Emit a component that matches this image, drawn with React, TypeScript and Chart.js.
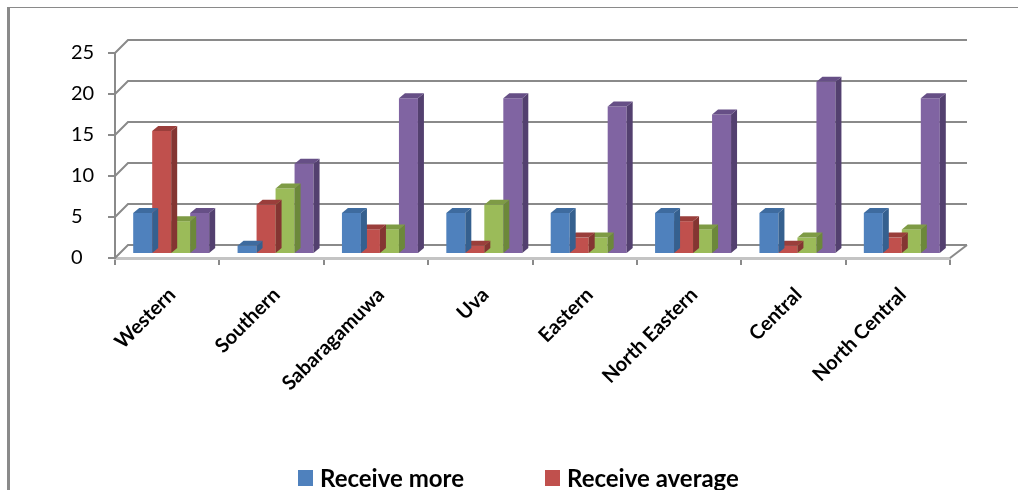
import React, { useEffect, useRef } from 'react';
import { Chart, registerables } from 'chart.js';

Chart.register(...registerables);

const categories = ['Western', 'Southern', 'Sabaragamuwa', 'Uva', 'Eastern', 'North Eastern', 'Central', 'North Central'];
const seriesNames = ['Receive more', 'Receive average', 'Receive less', 'Do not receive'];
const receiveMore = [5, 1, 5, 5, 5, 5, 5, 5];
const receiveAverage = [15, 6, 3, 1, 2, 4, 1, 2];
const receiveLess = [4, 8, 3, 6, 2, 3, 2, 3];
const doNotReceive = [5, 11, 19, 19, 18, 17, 21, 19];
const yMin = 0;
const yMax = 25;
const yStep = 5;

const frontColors = ['#4F81BD', '#C0504D', '#9BBB59', '#8064A2'];
const topColors = ['#3E6B9F', '#9A3E3B', '#7E9B45', '#664F86'];
const sideColors = ['#35608F', '#843532', '#6C883A', '#53406F'];

const GRID = '#8a8a8a';

const threeDPlugin = {
  id: 'threeD',
  beforeDatasetsDraw(chart: any) {
    const { ctx, chartArea: a, scales } = chart;
    const y = scales.y;
    const bl = a.left + 13;
    const br = a.right + 17;
    ctx.save();
    ctx.strokeStyle = GRID;
    ctx.lineWidth = 2;
    y.ticks.forEach((t: any) => {
      const yf = y.getPixelForValue(t.value);
      const yb = yf - 13;
      ctx.beginPath();
      ctx.moveTo(a.left, yf);
      ctx.lineTo(bl, yb);
      ctx.lineTo(br, yb);
      ctx.stroke();
    });
    const y0 = y.getPixelForValue(yMin);
    ctx.beginPath();
    ctx.moveTo(br, y0 - 13);
    ctx.lineTo(a.right, y0);
    ctx.stroke();
    ctx.restore();
    ctx.save();
    ctx.translate(4, -4);
  },
  afterDatasetDraw(chart: any, args: any) {
    const { ctx } = chart;
    const i = args.index;
    args.meta.data.forEach((bar: any) => {
      const { x, y, base, width } = bar.getProps(['x', 'y', 'base', 'width'], true);
      const l = x - width / 2;
      const r = x + width / 2;
      ctx.fillStyle = sideColors[i];
      ctx.beginPath();
      ctx.moveTo(r, y);
      ctx.lineTo(r + 6, y - 5);
      ctx.lineTo(r + 6, base - 5);
      ctx.lineTo(r, base);
      ctx.closePath();
      ctx.fill();
      ctx.fillStyle = topColors[i];
      ctx.beginPath();
      ctx.moveTo(l, y);
      ctx.lineTo(l + 6, y - 5);
      ctx.lineTo(r + 6, y - 5);
      ctx.lineTo(r, y);
      ctx.closePath();
      ctx.fill();
    });
  },
  afterDatasetsDraw(chart: any) {
    chart.ctx.restore();
  },
};

export default function App() {
  const canvasRef = useRef<HTMLCanvasElement | null>(null);

  useEffect(() => {
    if (!canvasRef.current) return;
    const seriesData = [receiveMore, receiveAverage, receiveLess, doNotReceive];
    const chart = new Chart(canvasRef.current, {
      type: 'bar',
      data: {
        labels: categories,
        datasets: seriesData.map((d, i) => ({
          label: seriesNames[i],
          data: d,
          backgroundColor: frontColors[i],
          borderWidth: 0,
          categoryPercentage: 0.728,
          barPercentage: 1.0,
          clip: false as any,
        })),
      },
      options: {
        responsive: false,
        devicePixelRatio: 1,
        animation: false,
        layout: { padding: { left: 71, top: 53, right: 68, bottom: 0 } },
        plugins: {
          legend: { display: false },
          tooltip: { enabled: false },
        },
        scales: {
          x: {
            type: 'category',
            offset: true,
            grid: {
              display: true,
              drawOnChartArea: false,
              drawTicks: true,
              tickLength: 7,
              color: GRID,
              lineWidth: 2,
              offset: true,
            },
            border: { display: true, color: '#c4c4c4', width: 3 },
            ticks: {
              autoSkip: false,
              maxRotation: 45,
              minRotation: 45,
              padding: 18,
              labelOffset: 5,
              color: '#000',
              font: { family: 'Lato', size: 20, weight: 'bold' },
            },
            afterFit: (s: any) => {
              s.height = 232;
            },
          },
          y: {
            min: yMin,
            max: yMax,
            ticks: {
              stepSize: yStep,
              crossAlign: 'far',
              padding: 10,
              color: '#000',
              font: { family: 'Lato', size: 20 },
            },
            grid: {
              drawOnChartArea: false,
              drawTicks: true,
              tickLength: 7,
              color: GRID,
              lineWidth: 2,
            },
            border: { display: true, color: GRID, width: 2 },
            afterFit: (s: any) => {
              s.width = 44;
            },
          },
        },
      } as any,
      plugins: [threeDPlugin],
    });
    return () => chart.destroy();
  }, []);

  const legendCols = [298, 545];
  return (
    <div style={{ position: 'fixed', left: 0, top: 0, width: 1018, height: 490, overflow: 'hidden', background: '#fff' }}>
      <canvas ref={canvasRef} width={1018} height={490} style={{ position: 'absolute', left: 0, top: 0, width: 1018, height: 490 }} />
      <div
        style={{
          position: 'absolute',
          left: 7,
          top: 7,
          width: 1011,
          height: 483,
          borderTop: '1px solid #8a8a8a',
          borderLeft: '3px solid #8a8a8a',
          boxSizing: 'border-box',
          pointerEvents: 'none',
        }}
      />
      {seriesNames.map((name, i) => {
        const x = legendCols[i % 2];
        const top = 466 + Math.floor(i / 2) * 34;
        return (
          <div key={name} style={{ position: 'absolute', left: x, top, height: 24, whiteSpace: 'nowrap' }}>
            <span style={{ position: 'absolute', left: 0, top: 4, width: 15, height: 16, background: frontColors[i] }} />
            <span
              style={{
                position: 'absolute',
                left: 22,
                top: 0,
                fontFamily: 'Lato',
                fontWeight: 'bold',
                fontSize: 24,
                lineHeight: '24px',
                color: '#000',
              }}
            >
              {name}
            </span>
          </div>
        );
      })}
    </div>
  );
}
